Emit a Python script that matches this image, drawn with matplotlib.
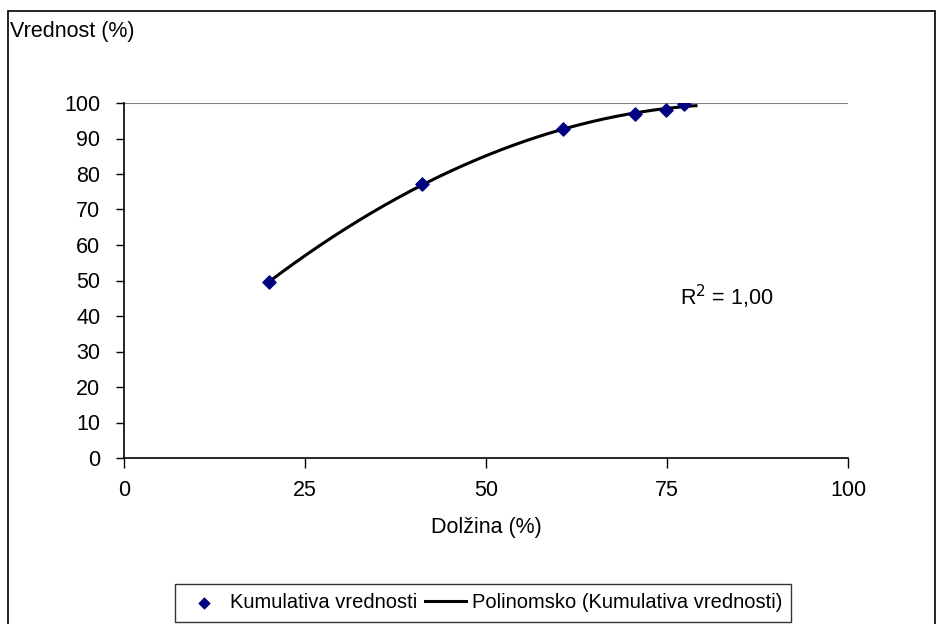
import numpy as np
import matplotlib
matplotlib.use("Agg")
from matplotlib import pyplot as plt
from matplotlib.patches import Rectangle

plt.rcParams['font.family'] = ['Liberation Sans', 'DejaVu Sans']

# cumulative share of value vs. share of length
duzina = [20.0, 41.2, 60.6, 70.6, 74.9, 77.4]
vrednost = [49.5, 77.2, 92.6, 96.8, 98.0, 99.7]

x_ticks = [0, 25, 50, 75, 100]
y_ticks = [0, 10, 20, 30, 40, 50, 60, 70, 80, 90, 100]

# second order polynomial trend, like the spreadsheet trendline
coef = np.polyfit(duzina, vrednost, 2)
yhat = np.polyval(coef, duzina)
v = np.array(vrednost)
r2 = 1 - np.sum((v - yhat) ** 2) / np.sum((v - v.mean()) ** 2)
xs = np.linspace(min(duzina), 79, 200)
ys = np.polyval(coef, xs)

fig = plt.figure(figsize=(9.36, 6.24), dpi=100)
W, H = 936, 624
ax = fig.add_axes([124 / W, 1 - 458 / H, (848 - 124) / W, (458 - 103) / H])

ax.plot(xs, ys, color='black', lw=2.2, zorder=2, label='Polinomsko (Kumulativa vrednosti)')
ax.scatter(duzina, vrednost, marker='D', s=45, color='#000080', zorder=3, label='Kumulativa vrednosti')
ax.axhline(100, color='#808080', lw=1.5, zorder=1)

ax.set_xlim(0, 100)
ax.set_ylim(0, 100)
ax.set_xticks(x_ticks)
ax.set_yticks(y_ticks)
ax.tick_params(axis='both', labelsize=15.5, color='black', width=1, direction='out')
ax.tick_params(axis='x', length=7, pad=9)
ax.tick_params(axis='y', length=6, pad=11)
for s in ['top', 'right']:
    ax.spines[s].set_visible(False)
for s in ['left', 'bottom']:
    ax.spines[s].set_linewidth(1.2)
    ax.spines[s].set_clip_on(False)

ax.text(556 / 724, (458 - 297) / 355, 'R$^2$ = ' + ('%.2f' % r2).replace('.', ','),
        transform=ax.transAxes, fontsize=15.5, ha='left', va='center')

fig.text(10 / W, 1 - 32 / H, 'Vrednost (%)', fontsize=15.5, ha='left', va='center')
fig.text(486 / W, 1 - 527 / H, 'Dolžina (%)', fontsize=15.5, ha='center', va='center')

# outer chart border
fig.patches.append(Rectangle((8 / W, -5 / H), (935 - 8) / W, (613 + 5) / H,
                             transform=fig.transFigure, fill=False, edgecolor='black', lw=1.2))

handles, labels = ax.get_legend_handles_labels()
leg = fig.legend(handles[::-1], labels[::-1], loc='center', bbox_to_anchor=(483 / W, 1 - 603 / H),
                 ncol=2, fontsize=14.5, frameon=True, fancybox=False, edgecolor='black',
                 handlelength=2.0, handletextpad=0.3, columnspacing=0.4, borderpad=0.45,
                 scatterpoints=1, markerscale=0.8)
leg.get_frame().set_linewidth(1.0)

fig.savefig('out.png', dpi=100)
